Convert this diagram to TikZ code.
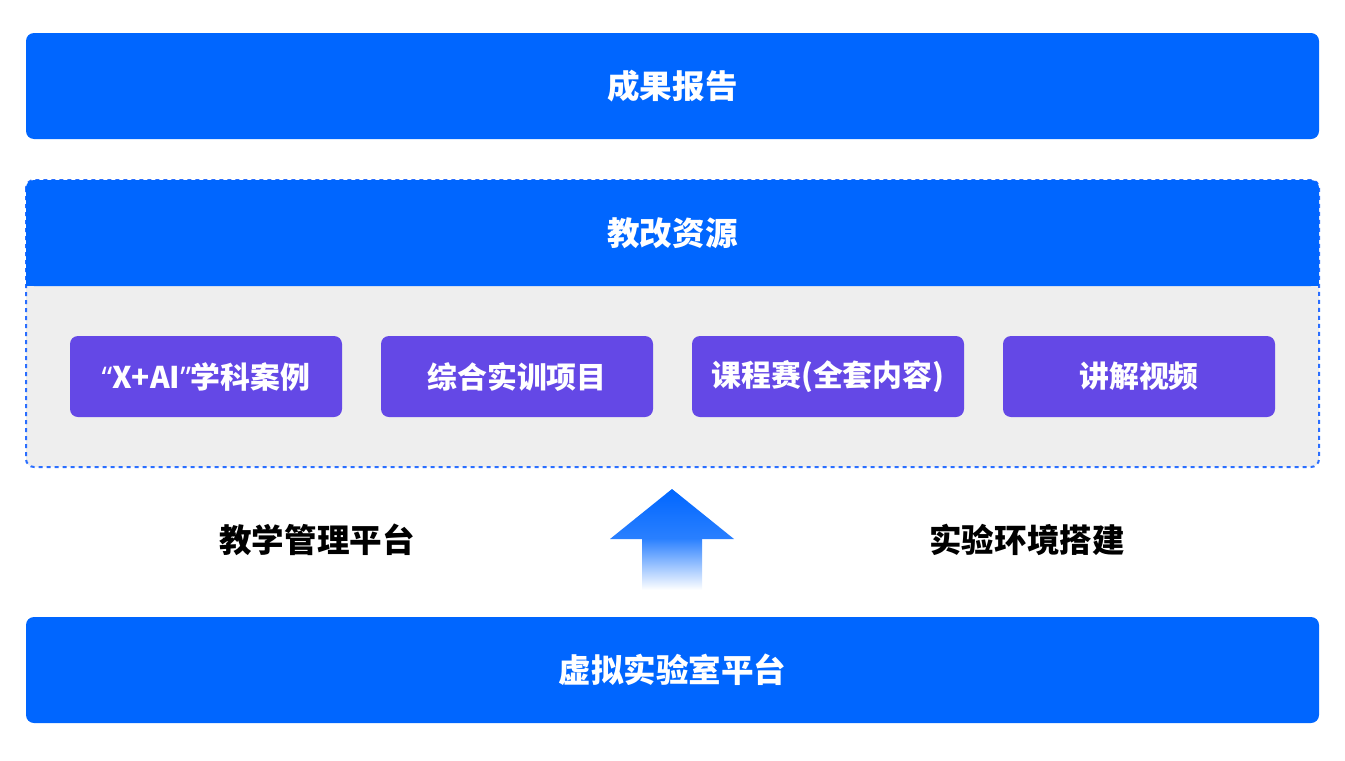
\documentclass[tikz,border=0pt]{standalone}
\usepackage{fontspec}
\setmainfont{Noto Sans CJK SC}
\newfontfamily\latinq{Noto Sans}
\begin{document}
\begin{tikzpicture}[x=0.75pt,y=-0.75pt,
  bluebar/.style={fill=barblue,rounded corners=6pt,text=white,font=\fontsize{24.4}{28}\selectfont\bfseries},
  purplebox/.style={fill=boxpurple,rounded corners=6pt,text=white,font=\fontsize{22.4}{26}\selectfont\bfseries},
  sidelabel/.style={text=black,font=\fontsize{24.4}{28}\selectfont\bfseries}]
\definecolor{barblue}{HTML}{0066FF}
\definecolor{boxpurple}{HTML}{6448E6}
\definecolor{panelgray}{HTML}{EEEEEE}
\definecolor{dashblue}{HTML}{2A6EFF}
\definecolor{midblue}{HTML}{2A80FF}
\useasboundingbox (0,0) rectangle (1345,760);
% top bar
\path[bluebar] (26,33) rectangle (1319,139);
\node[bluebar,fill=none] (report) at (672.5,86) {成果报告};
% panel
\path[fill=panelgray,draw=dashblue,line width=1.5pt,dash pattern=on 3pt off 3pt,rounded corners=6pt] (26,180) rectangle (1319,467);
\path[fill=barblue,rounded corners=6pt] (26,180) rectangle (1319,286);
\path[fill=barblue] (26,250) rectangle (1319,286);
\node[bluebar,fill=none] (res) at (672.5,233) {教改资源};
% purple boxes
\node[purplebox,minimum width=272*0.75pt,minimum height=81*0.75pt] (p1) at (206,376.5) {{\latinq“}X+AI{\latinq”}学科案例};
\node[purplebox,minimum width=272*0.75pt,minimum height=81*0.75pt] (p2) at (517,376.5) {综合实训项目};
\node[purplebox,minimum width=272*0.75pt,minimum height=81*0.75pt] (p3) at (828,376.5) {课程赛(全套内容)};
\node[purplebox,minimum width=272*0.75pt,minimum height=81*0.75pt] (p4) at (1139,376.5) {讲解视频};
% side labels
\node[sidelabel] (l1) at (317,540) {教学管理平台};
\node[sidelabel] (l2) at (1027,540) {实验环境搭建};
% arrow
\shade[top color=barblue,bottom color=midblue] (672,489) -- (734,539) -- (610,539) -- cycle;
\shade[top color=midblue,bottom color=white] (642,538.5) rectangle (702,590);
% bottom bar
\path[bluebar] (26,617) rectangle (1319,723);
\node[bluebar,fill=none] (lab) at (672.5,670) {虚拟实验室平台};
\end{tikzpicture}
\end{document}
